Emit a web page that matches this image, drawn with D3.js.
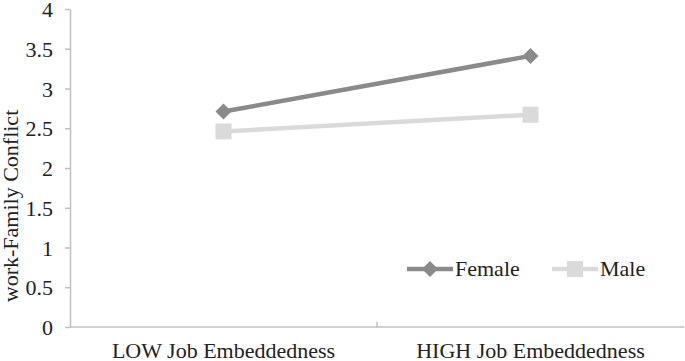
<!DOCTYPE html>
<html>
<head>
<meta charset="utf-8">
<script src="https://cdn.jsdelivr.net/npm/d3@7"></script>
</head>
<body style="margin:0; background:#fff">
<script>
var categories = ["LOW Job Embeddedness", "HIGH Job Embeddedness"];
var femaleValues = [2.71, 3.41];
var maleValues = [2.46, 2.67];
var yTicks = [0, 0.5, 1, 1.5, 2, 2.5, 3, 3.5, 4];
var seriesNames = ["Female", "Male"];

var width = 685,
	height = 361;

var svg = d3.select("body").append("svg")
	.attr("width", width)
	.attr("height", height);

var x = d3.scaleBand().domain(categories).range([70, 684]);
var y = d3.scaleLinear().domain([0, 4]).range([327, 9]);

var axisColor = "#bfbfbf";
var fontFamily = "'Liberation Serif', 'Times New Roman', serif";
var fontSize = "22px";
var textColor = "#222";

function styleText(sel) {
	sel.style("font-family", fontFamily)
		.style("font-size", fontSize)
		.style("fill", textColor);
}

// y axis
var yAxis = svg.append("g")
	.attr("transform", "translate(70,0)")
	.call(d3.axisLeft(y).tickValues(yTicks).tickSize(5).tickSizeOuter(0)
		.tickFormat(function(d) { return d3.format("")(d); }));
yAxis.select(".domain").attr("stroke", axisColor).attr("stroke-width", 1.5);
yAxis.selectAll(".tick line").attr("stroke", axisColor).attr("stroke-width", 1.5);
yAxis.selectAll(".tick text")
	.attr("x", -17)
	.attr("dy", "0.35em")
	.call(styleText);

// x axis
var xAxis = svg.append("g")
	.attr("transform", "translate(0,327)");
xAxis.append("line")
	.attr("x1", 70).attr("x2", 684)
	.attr("stroke", axisColor).attr("stroke-width", 1.5);
xAxis.selectAll("line.sep")
	.data(categories.slice(1))
	.enter().append("line")
	.attr("class", "sep")
	.attr("x1", function(d) { return x(d); })
	.attr("x2", function(d) { return x(d); })
	.attr("y1", -5).attr("y2", 0)
	.attr("stroke", axisColor).attr("stroke-width", 1.5);
xAxis.selectAll("text")
	.data(categories)
	.enter().append("text")
	.attr("x", function(d) { return x(d) + x.bandwidth() / 2; })
	.attr("y", 31)
	.attr("text-anchor", "middle")
	.call(styleText)
	.text(function(d) { return d; });

// y title
svg.append("text")
	.attr("transform", "translate(18,206) rotate(-90)")
	.attr("text-anchor", "middle")
	.call(styleText)
	.text("work-Family Conflict");

var cx = function(d, i) { return x(categories[i]) + x.bandwidth() / 2; };
var line = d3.line().x(function(d, i) { return cx(d, i); }).y(function(d) { return y(d); });

var series = [
	{ name: seriesNames[0], values: femaleValues, color: "#8a8a8a", shape: "diamond" },
	{ name: seriesNames[1], values: maleValues, color: "#dadada", shape: "square" }
];

function drawMarker(g, shape, color, px, py) {
	if (shape === "diamond") {
		g.append("path")
			.attr("d", "M" + px + "," + (py - 8) + "L" + (px + 8) + "," + py + "L" + px + "," + (py + 8) + "L" + (px - 8) + "," + py + "Z")
			.attr("fill", color);
	} else {
		g.append("rect")
			.attr("x", px - 8).attr("y", py - 8)
			.attr("width", 16).attr("height", 16)
			.attr("fill", color);
	}
}

// draw male first so female sits on top
series.slice().reverse().forEach(function(s) {
	var g = svg.append("g");
	g.append("path")
		.datum(s.values)
		.attr("d", line)
		.attr("fill", "none")
		.attr("stroke", s.color)
		.attr("stroke-width", 4.5);
	s.values.forEach(function(v, i) {
		drawMarker(g, s.shape, s.color, cx(v, i), y(v));
	});
});

// legend
var legendPos = [407, 552];
series.forEach(function(s, i) {
	var g = svg.append("g").attr("transform", "translate(" + legendPos[i] + ",269)");
	g.append("line")
		.attr("x1", 0).attr("x2", 46)
		.attr("stroke", s.color).attr("stroke-width", 4.5);
	drawMarker(g, s.shape, s.color, 23, 0);
	g.append("text")
		.attr("x", 48).attr("y", 7)
		.call(styleText)
		.text(s.name);
});
</script>
</body>
</html>
